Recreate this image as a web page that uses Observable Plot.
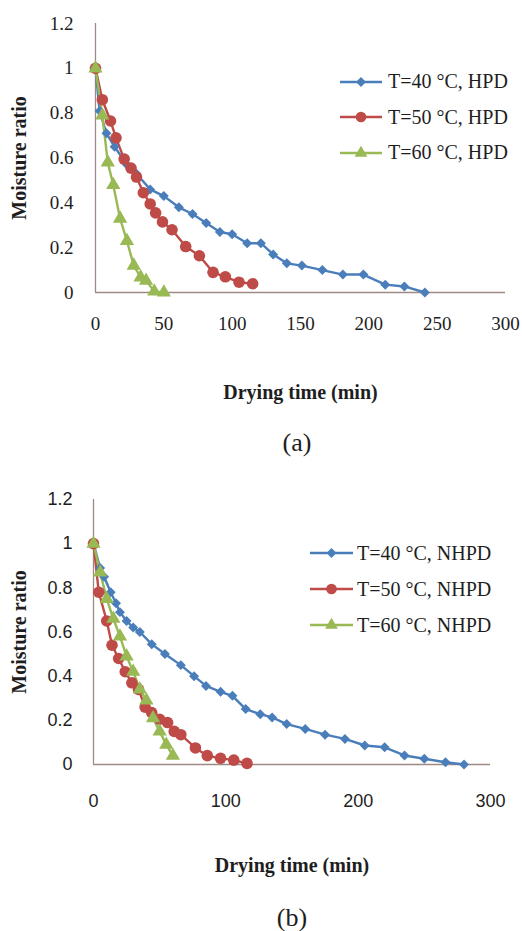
<!DOCTYPE html>
<html><head><meta charset="utf-8">
<script src="https://cdn.jsdelivr.net/npm/d3@7"></script>
<script src="https://cdn.jsdelivr.net/npm/@observablehq/plot@0.6"></script>
<style>
body{margin:0;background:#fff;}
#root{position:relative;width:522px;height:931px;font-family:"Liberation Serif",serif;color:#1e1e1e;overflow:hidden;}
.panel{position:absolute;left:0;}
.caption{position:absolute;font-size:26px;line-height:24px;text-align:center;width:100px;}
.legend{position:absolute;font-size:20px;}
.legend .row{display:flex;align-items:center;}
.legend svg{display:block;}
g[aria-label="x-axis label"] text, g[aria-label="y-axis label"] text{font-family:"Liberation Serif",serif !important;font-weight:bold !important;font-size:20px !important;}
</style>
</head><body><div id="root"></div>
<script>
// ---- data ----
const seriesA = ["T=40 °C, HPD", "T=50 °C, HPD", "T=60 °C, HPD"];
const seriesB = ["T=40 °C, NHPD", "T=50 °C, NHPD", "T=60 °C, NHPD"];

const timeA40 = [0,3,8,14,23,30,40,50,61,71,81,91,100,111,121,130,140,151,166,181,196,212,226,241];
const mrA40   = [1.0,0.81,0.71,0.65,0.57,0.53,0.46,0.43,0.38,0.35,0.31,0.27,0.26,0.22,0.22,0.17,0.13,0.12,0.10,0.08,0.08,0.035,0.027,0.0];
const timeA50 = [0,5,11,15,21,26,30,35,40,44,49,56,66,76,86,95,105,115];
const mrA50   = [1.0,0.86,0.765,0.69,0.595,0.555,0.515,0.445,0.395,0.355,0.315,0.28,0.205,0.164,0.09,0.07,0.046,0.039];
const timeA60 = [0,5,9,13,18,23,28,33,37,43,50];
const mrA60   = [1.0,0.79,0.58,0.48,0.33,0.23,0.12,0.068,0.053,0.005,0.0];

const timeB40 = [0,5,8,13,17,20,25,30,35,44,54,66,76,85,96,105,115,126,135,146,160,175,190,205,220,235,250,266,280];
const mrB40   = [1.0,0.89,0.85,0.78,0.73,0.69,0.65,0.62,0.60,0.545,0.50,0.45,0.40,0.356,0.329,0.311,0.251,0.228,0.213,0.183,0.161,0.135,0.116,0.086,0.078,0.041,0.026,0.01,0.0];
const timeB50 = [0,4,10,14,19,24,29,34,39,44,50,56,61,66,77,86,96,106,116];
const mrB50   = [1.0,0.78,0.65,0.54,0.48,0.42,0.37,0.34,0.26,0.235,0.205,0.19,0.15,0.135,0.075,0.04,0.028,0.02,0.005];
const timeB60 = [0,5,10,15,20,25,30,35,40,45,50,55,60];
const mrB60   = [1.0,0.87,0.75,0.66,0.58,0.49,0.42,0.34,0.29,0.21,0.15,0.09,0.04];

const xTicksA = [0,50,100,150,200,250,300];
const xTicksB = [0,100,200,300];
const yTicks = [0,0.2,0.4,0.6,0.8,1,1.2];

// ---- styles ----
const colors = ["#4a7ebb", "#be4b48", "#98b954"];
const symbols = ["diamond2", "circle", "triangle"];
const radii = [4.5, 5.8, 5.3];
const axisColor = "#9e8a84";

function rows(name, t, mr) { return t.map((d, i) => ({series: name, t: d, mr: mr[i]})); }

const dataA = [rows(seriesA[0], timeA40, mrA40), rows(seriesA[1], timeA50, mrA50), rows(seriesA[2], timeA60, mrA60)];
const dataB = [rows(seriesB[0], timeB40, mrB40), rows(seriesB[1], timeB50, mrB50), rows(seriesB[2], timeB60, mrB60)];

const root = document.getElementById("root");

function panel(id, data, cfg) {
  const marks = [
    Plot.axisX({ticks: cfg.xTicks, tickSize: 0, tickPadding: cfg.xpad, tickFormat: d => String(d),
      fontFamily: cfg.tickFont, fontSize: cfg.tickSize, fill: "#1e1e1e",
      label: "Drying time (min)", labelAnchor: "center", labelOffset: cfg.xlo, labelArrow: false}),
    Plot.axisY({ticks: yTicks, tickSize: 0, tickPadding: cfg.ypad, tickFormat: d => String(d),
      fontFamily: cfg.tickFont, fontSize: cfg.tickSize, fill: "#1e1e1e",
      label: "Moisture ratio", labelAnchor: "center", labelOffset: cfg.ylo, labelArrow: false}),
    Plot.ruleX([0], {stroke: axisColor, strokeWidth: 1.3}),
    Plot.ruleY([0], {stroke: axisColor, strokeWidth: 1.3})
  ];
  data.forEach((d, i) => {
    marks.push(Plot.line(d, {x: "t", y: "mr", stroke: colors[i], strokeWidth: 2.4}));
  });
  data.forEach((d, i) => {
    marks.push(Plot.dot(d, {x: "t", y: "mr", symbol: symbols[i], r: radii[i], fill: colors[i], stroke: "none"}));
  });
  const chart = Plot.plot({
    width: 522, height: 410,
    marginLeft: cfg.ml, marginRight: cfg.mr, marginTop: cfg.mt, marginBottom: cfg.mb,
    style: {fontFamily: "'Liberation Serif', serif", fontSize: "19px", color: "#1e1e1e", background: "transparent", overflow: "visible"},
    x: {domain: [0, 300]},
    y: {domain: [0, 1.2]},
    marks
  });
  const wrap = document.createElement("div");
  wrap.className = "panel";
  wrap.id = id;
  wrap.style.top = cfg.top + "px";
  wrap.appendChild(chart);
  root.appendChild(wrap);
}

function legend(names, cfg) {
  const box = document.createElement("div");
  box.className = "legend";
  box.style.left = cfg.left + "px";
  box.style.top = cfg.top + "px";
  names.forEach((n, i) => {
    const row = document.createElement("div");
    row.className = "row";
    row.style.height = cfg.rowH + "px";
    const w = cfg.lineW, h = 16;
    const svg = d3.create("svg").attr("width", w).attr("height", h).style("margin-right", cfg.gap + "px");
    svg.append("line").attr("x1", 0).attr("x2", w).attr("y1", h / 2).attr("y2", h / 2)
      .attr("stroke", colors[i]).attr("stroke-width", 2.4);
    const sym = [d3.symbolDiamond2, d3.symbolCircle, d3.symbolTriangle][i];
    const size = [1, 0.85, 0.8][i] * Math.PI * radii[i] * radii[i];
    svg.append("path").attr("d", d3.symbol(sym, size)()).attr("transform", `translate(${w / 2},${h / 2})`)
      .attr("fill", colors[i]);
    row.appendChild(svg.node());
    const span = document.createElement("span");
    span.textContent = n;
    row.appendChild(span);
    box.appendChild(row);
  });
  root.appendChild(box);
}

function caption(text, left, top) {
  const c = document.createElement("div");
  c.className = "caption";
  c.textContent = text;
  c.style.left = left + "px";
  c.style.top = top + "px";
  root.appendChild(c);
}

panel("pa", dataA, {top: 0, ml: 95, mr: 17, mt: 23, mb: 118, xTicks: xTicksA, xpad: 24, ypad: 22, xlo: 106, ylo: 84,
  tickFont: "'Liberation Serif', serif", tickSize: 19});
legend(seriesA, {left: 340, top: 64, rowH: 35.5, lineW: 42, gap: 6});
caption("(a)", 247, 431);

panel("pb", dataB, {top: 470, ml: 93, mr: 32, mt: 29, mb: 116, xTicks: xTicksB, xpad: 30, ypad: 21, xlo: 107, ylo: 82,
  tickFont: "'Liberation Sans', sans-serif", tickSize: 18});
legend(seriesB, {left: 310, top: 535, rowH: 36, lineW: 43, gap: 4});
caption("(b)", 242, 906);
</script>
</body></html>
